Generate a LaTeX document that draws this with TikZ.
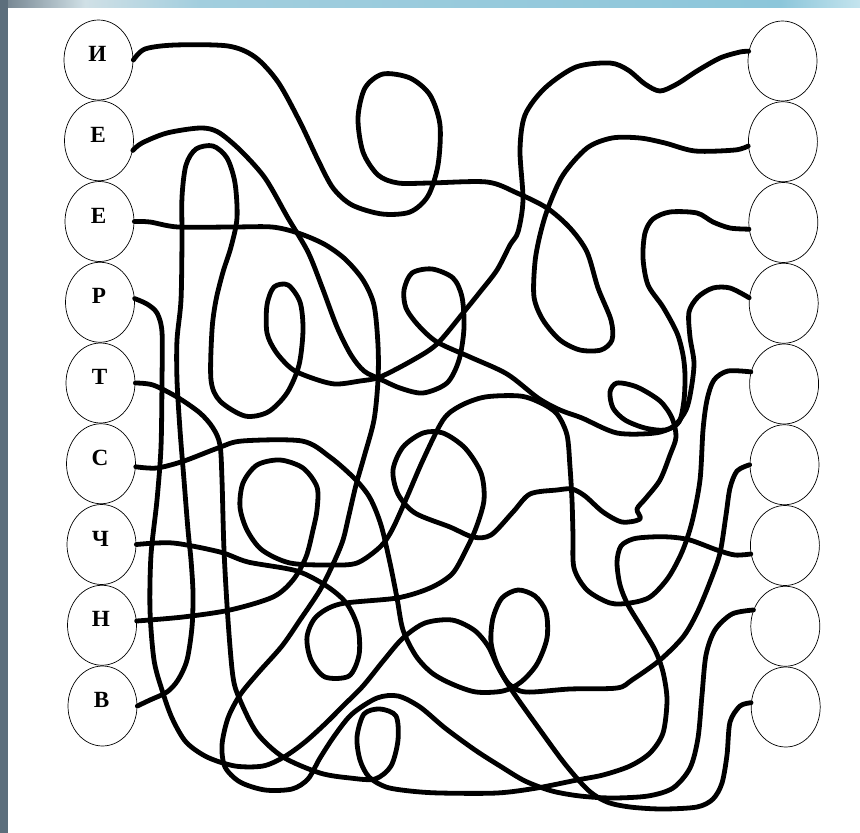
\documentclass[tikz,border=0pt]{standalone}
\usepackage{fontspec}
\setmainfont{Liberation Serif}
\usetikzlibrary{shapes.geometric}
\definecolor{stripL}{RGB}{92,110,124}
\definecolor{barA}{RGB}{112,128,140}
\definecolor{barB}{RGB}{208,224,230}
\definecolor{barC}{RGB}{162,206,222}
\definecolor{barD}{RGB}{140,198,218}
\definecolor{barE}{RGB}{196,228,238}
\newcommand{\lettersize}{\fontsize{16pt}{16pt}\selectfont\bfseries}
\tikzset{
  circ/.style={ellipse, draw=black, line width=0.7pt, minimum width=69pt, minimum height=80pt, inner sep=0pt},
  letter/.style={inner sep=0pt, scale=1.45},
  wire/.style={line width=4.8pt, line cap=round, line join=round, black},
}
\begin{document}
\begin{tikzpicture}[x=1pt,y=-1pt]
\useasboundingbox (0,0) rectangle (860,833);
\fill[white] (0,0) rectangle (860,833);
\shade[left color=barA, right color=barB] (0,0) rectangle (85,7);
\shade[left color=barB, right color=barC] (85,0) rectangle (200,7);
\shade[left color=barC, right color=barD] (200,0) rectangle (780,7);
\shade[left color=barD, right color=barE] (780,0) rectangle (860,7);
\fill[stripL] (0,0) rectangle (8,833);

% left circles
\node[circ] (L1) at (98.5,60) {};
\node[circ] (L2) at (99,140.75) {};
\node[circ] (L3) at (99.5,221.5) {};
\node[circ] (L4) at (100,302.25) {};
\node[circ] (L5) at (100.5,383) {};
\node[circ] (L6) at (101,463.75) {};
\node[circ] (L7) at (101.5,544.5) {};
\node[circ] (L8) at (102,625.25) {};
\node[circ] (L9) at (102.5,706) {};
% right circles
\node[circ] (R1) at (782.5,61) {};
\node[circ] (R2) at (782.9,141.75) {};
\node[circ] (R3) at (783.3,222.5) {};
\node[circ] (R4) at (783.7,303.25) {};
\node[circ] (R5) at (784.1,384) {};
\node[circ] (R6) at (784.5,464.75) {};
\node[circ] (R7) at (784.9,545.5) {};
\node[circ] (R8) at (785.3,626.25) {};
\node[circ] (R9) at (785.7,707) {};
% letters
\node[letter] (T1) at ([yshift=6pt,xshift=-1pt]L1.center) {\lettersize И};
\node[letter] (T2) at ([yshift=6pt,xshift=-1pt]L2.center) {\lettersize Е};
\node[letter] (T3) at ([yshift=6pt,xshift=-1pt]L3.center) {\lettersize Е};
\node[letter] (T4) at ([yshift=6pt,xshift=-1pt]L4.center) {\lettersize Р};
\node[letter] (T5) at ([yshift=6pt,xshift=-1pt]L5.center) {\lettersize Т};
\node[letter] (T6) at ([yshift=6pt,xshift=-1pt]L6.center) {\lettersize С};
\node[letter] (T7) at ([yshift=6pt,xshift=-1pt]L7.center) {\lettersize Ч};
\node[letter] (T8) at ([yshift=6pt,xshift=-1pt]L8.center) {\lettersize Н};
\node[letter] (T9) at ([yshift=6pt,xshift=-1pt]L9.center) {\lettersize В};

% И -> R2
\draw[wire] plot[smooth] coordinates {(L1.east) (145,49) (175,45) (228,46) (255,57) (278,82) (300,122) (318,160) (333,188) (352,205) (382,214) (410,212) (428,196) (438,165) (440,125) (430,95) (410,78) (383,74) (365,88) (358,118) (363,152) (378,175) (398,183) (430,183) (487,182) (517,193) (547,208) (570,228) (587,252) (598,288) (611,320) (612,340) (601,350) (580,350) (560,340) (543,320) (534,297) (535,262) (540,235) (548,208) (563,175) (587,148) (612,138) (640,138) (665,143) (695,151) (735,150) (R2.187)};
% Е -> R4
\draw[wire] plot[smooth] coordinates {(L2.-16) (142,143) (167,133) (200,128) (218,132) (240,150) (265,178) (288,218) (308,252) (322,287) (337,327) (351,355) (364,371) (380,379) (400,388) (423,393) (447,383) (459,360) (464,328) (462,297) (453,278) (432,269) (412,273) (404,290) (406,308) (418,325) (437,342) (470,357) (507,374) (538,398) (560,410) (582,418) (617,433) (655,433) (674,426) (686,410) (691,390) (694,363) (690,337) (689,312) (698,297) (713,288) (730,288) (R4.171)};
% Е -> R8
\draw[wire] plot[smooth] coordinates {(L3.east) (150,222) (178,227) (233,227) (272,227) (298,233) (324,244) (345,259) (363,280) (374,305) (378,345) (378,380) (374,420) (364,457) (356,485) (349,515) (343,540) (334,562) (320,590) (300,620) (282,646) (258,673) (240,695) (228,718) (222,745) (225,767) (240,782) (265,790) (292,789) (308,779) (320,758) (335,735) (352,714) (377,698) (398,696) (420,707) (445,728) (475,750) (500,766) (525,781) (552,791) (580,796) (612,798) (648,796) (673,788) (690,768) (698,738) (702,695) (706,655) (715,630) (732,614) (R8.153)};
% Р -> R9
\draw[wire] plot[smooth] coordinates {(L4.6) (147,304) (157,313) (162,332) (162,380) (161,447) (157,500) (151,555) (150,610) (154,660) (162,690) (172,718) (186,742) (207,757) (235,766) (263,766) (284,757) (305,742) (326,723) (344,705) (363,686) (384,660) (403,638) (425,623) (452,620) (474,630) (488,646) (498,667) (513,692) (540,730) (565,764) (588,790) (607,802) (630,807) (662,809) (697,807) (713,799) (722,783) (727,755) (730,722) (740,706) (R9.173)};
% Т -> R7
\draw[wire] plot[smooth] coordinates {(L5.east) (153,385) (177,397) (200,413) (213,428) (220,445) (222,480) (224,550) (228,620) (233,677) (240,700) (257,733) (283,757) (320,773) (350,778) (375,779) (391,766) (398,740) (396,716) (380,709) (364,714) (357,737) (360,760) (369,777) (386,787) (410,791) (440,793) (497,793) (537,788) (577,780) (603,775) (630,766) (650,753) (663,733) (667,700) (663,672) (655,650) (642,628) (628,605) (620,585) (617,562) (621,546) (633,539) (650,537) (670,537) (690,540) (717,550) (735,555) (R7.194)};
% С -> R6
\draw[wire] plot[smooth] coordinates {(L6.-5) (157,468) (184,461) (218,448) (242,441) (302,441) (330,457) (355,479) (370,498) (381,525) (390,563) (397,598) (403,630) (416,656) (432,673) (452,684) (476,692) (503,691) (521,682) (537,664) (547,638) (546,612) (535,596) (518,590) (502,598) (493,618) (491,642) (497,664) (509,684) (526,692) (570,689) (617,688) (632,680) (660,660) (683,637) (697,613) (710,582) (720,553) (726,515) (730,488) (737,471) (R6.west)};
% Ч -> R3
\draw[wire] plot[smooth] coordinates {(L7.east) (173,543) (220,552) (248,562) (297,571) (328,587) (347,604) (358,628) (359,655) (349,676) (325,677) (311,660) (307,637) (316,617) (340,604) (397,598) (430,588) (452,574) (465,552) (476,528) (484,500) (481,473) (465,448) (443,433) (423,433) (403,447) (393,470) (398,494) (415,513) (450,527) (473,537) (491,535) (513,512) (530,494) (557,490) (572,489) (585,496) (603,512) (622,522) (640,519) (637,509) (646,498) (660,480) (670,455) (676,437) (672,418) (660,401) (637,387) (617,383) (610,392) (613,408) (625,420) (645,428) (665,430) (679,422) (684,400) (685,375) (683,355) (677,333) (663,307) (648,285) (643,258) (645,233) (653,219) (670,212) (697,213) (713,222) (730,228) (R3.191)};
% Н -> R5
\draw[wire] plot[smooth] coordinates {(L8.7) (183,617) (230,610) (273,597) (293,580) (306,557) (313,530) (317,510) (317,487) (303,468) (280,460) (257,465) (243,483) (240,507) (247,530) (262,550) (290,563) (330,565) (357,563) (380,547) (392,530) (407,497) (423,460) (443,420) (460,406) (485,397) (520,396) (541,403) (557,414) (567,435) (570,467) (572,500) (573,535) (574,568) (587,590) (610,603) (630,603) (650,597) (668,578) (682,552) (692,522) (700,480) (703,430) (707,400) (714,380) (728,371) (R5.160)};
% В -> R1
\draw[wire] plot[smooth] coordinates {(L9.east) (150,700) (167,692) (178,680) (187,660) (192,627) (193,593) (191,560) (188,530) (184,480) (180,430) (177,380) (177,340) (181,300) (182,240) (182,197) (186,165) (196,149) (213,146) (227,158) (235,183) (237,218) (231,247) (223,272) (216,300) (212,330) (211,380) (220,401) (245,416) (268,412) (287,393) (299,365) (303,330) (300,302) (288,285) (274,287) (267,305) (267,333) (276,352) (292,369) (312,378) (335,384) (360,381) (380,377) (413,360) (437,344) (463,313) (480,292) (497,270) (510,245) (518,232) (523,200) (520,150) (525,115) (545,88) (576,67) (610,63) (628,70) (645,84) (660,91) (677,84) (697,71) (720,58) (740,52) (R1.164)};
\end{tikzpicture}
\end{document}
